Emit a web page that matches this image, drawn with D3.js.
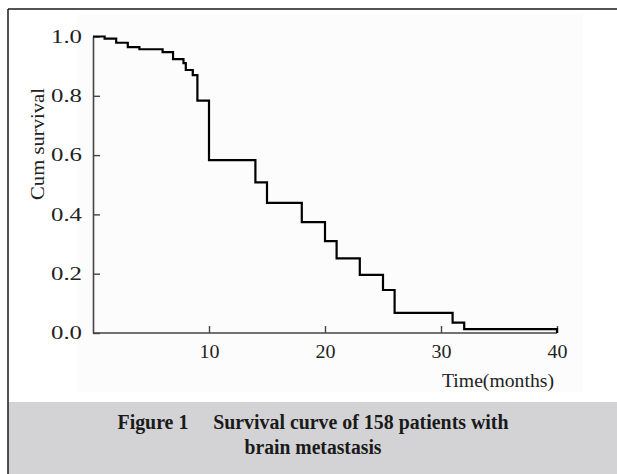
<!DOCTYPE html>
<html><head><meta charset="utf-8">
<script src="https://cdn.jsdelivr.net/npm/d3@7"></script>
<style>html,body{margin:0;padding:0;background:#fff;}svg{display:block;}</style>
</head><body>
<script>
const times    = [0, 1, 2, 3, 4, 6, 6.9, 7.8, 8, 8.6, 9, 10, 14, 15, 18, 20, 21, 23, 25, 26, 31, 32, 40];
const survival = [1.0, 0.993, 0.979, 0.964, 0.957, 0.947, 0.924, 0.910, 0.887, 0.870, 0.784, 0.583, 0.508, 0.439, 0.374, 0.310, 0.252, 0.196, 0.145, 0.068, 0.035, 0.013, 0.0];
const xTicks = [10, 20, 30, 40];
const yTicks = [0, 0.2, 0.4, 0.6, 0.8, 1.0];
const xLabel = "Time(months)";
const yLabel = "Cum survival";
const captionLines = ["Figure 1\u2003 Survival curve of 158 patients with", "brain metastasis"];

const W = 617, H = 474;
const svg = d3.select("body").append("svg").attr("width", W).attr("height", H);

// frame
svg.append("rect").attr("x", 8).attr("y", 402).attr("width", W - 8).attr("height", H - 402).attr("fill", "#d3d3d5");
svg.append("line").attr("x1", 8).attr("x2", W).attr("y1", 9).attr("y2", 9).attr("stroke", "#1a1a1a").attr("stroke-width", 1.5);
svg.append("line").attr("x1", 8).attr("x2", 8).attr("y1", 9).attr("y2", H).attr("stroke", "#1a1a1a").attr("stroke-width", 1.5);
svg.append("rect").attr("x", 77).attr("y", 14).attr("width", 506).attr("height", 378).attr("fill", "#fcfcfc");

const x = d3.scaleLinear().domain([0, 40]).range([93, 557]);
const y = d3.scaleLinear().domain([0, 1]).range([333, 36.5]);

const font = "'Liberation Serif', 'Times New Roman', serif";

const xAxis = svg.append("g").attr("transform", "translate(0,333)")
  .call(d3.axisBottom(x).tickValues(xTicks).tickSizeInner(-7).tickSizeOuter(0).tickPadding(12).tickFormat(d3.format("d")));
const yAxis = svg.append("g").attr("transform", "translate(93,0)")
  .call(d3.axisLeft(y).tickValues(yTicks).tickSizeInner(-7).tickSizeOuter(0).tickPadding(11).tickFormat(d3.format(".1f")));
[xAxis, yAxis].forEach(g => {
  g.select(".domain").attr("stroke", "#444").attr("stroke-width", 1.6);
  g.selectAll(".tick line").attr("stroke", "#444").attr("stroke-width", 1.4);
  g.selectAll(".tick text").attr("font-family", font).attr("font-size", 18).attr("fill", "#222")
    .attr("lengthAdjust", "spacingAndGlyphs");
});
xAxis.selectAll(".tick text").attr("textLength", 20);
yAxis.selectAll(".tick text").attr("textLength", 31);
xAxis.select(".domain").attr("d", `M${x(0)},0H${x(40)}`);

// step curve
const line = d3.line().x(d => x(d[0])).y(d => y(d[1])).curve(d3.curveStepAfter);
svg.append("path").datum(times.map((t, i) => [t, survival[i]]))
  .attr("d", line).attr("fill", "none").attr("stroke", "#000").attr("stroke-width", 2.2);

svg.append("text").attr("x", 554).attr("y", 387).attr("text-anchor", "end")
  .attr("font-family", font).attr("font-size", 19).attr("fill", "#222")
  .attr("textLength", 112).attr("lengthAdjust", "spacingAndGlyphs").text(xLabel);
svg.append("text").attr("transform", "translate(44,144) rotate(-90)").attr("text-anchor", "middle")
  .attr("font-family", font).attr("font-size", 19).attr("fill", "#222")
  .attr("textLength", 112).attr("lengthAdjust", "spacingAndGlyphs").text(yLabel);

const capLen = [391, 137];
svg.selectAll("text.cap").data(captionLines).join("text").attr("class", "cap")
  .attr("x", 313).attr("y", (d, i) => 429 + i * 25).attr("text-anchor", "middle")
  .attr("font-family", font).attr("font-weight", "bold").attr("font-size", 20).attr("fill", "#1a1a1a")
  .attr("textLength", (d, i) => capLen[i]).attr("lengthAdjust", "spacingAndGlyphs")
  .attr("xml:space", "preserve").style("white-space", "pre").text(d => d);
</script>
</body></html>
